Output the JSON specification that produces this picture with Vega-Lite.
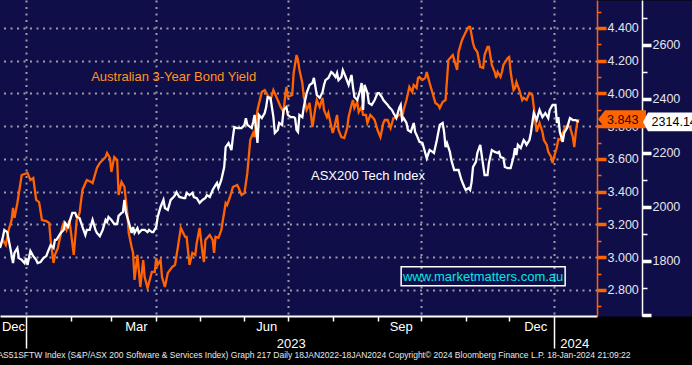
{
"$schema": "https://vega.github.io/schema/vega-lite/v6.json",
"width": 597, "height": 316,
"autosize": {"type": "none"},
"padding": {"left": 0, "top": 0, "right": 95, "bottom": 49},
"background": "#000000",
"config": {"view": {"fill": "#100e48", "stroke": null}, "font": "Liberation Sans"},
"title": {"text": "AS51SFTW Index (S&P/ASX 200 Software & Services Index) Graph 217  Daily 18JAN2022-18JAN2024   Copyright© 2024 Bloomberg Finance L.P.    18-Jan-2024 21:09:22", "orient": "bottom", "anchor": "start", "fontSize": 8.5, "fontWeight": "normal", "color": "#e8e8e8", "font": "Liberation Sans", "offset": 1, "dx": 2},
"datasets": {
"bond": [
{"date":"2022-12-14","v":3.063},{"date":"2022-12-16","v":3.105},{"date":"2022-12-18","v":3.075},{"date":"2022-12-20","v":3.166},{"date":"2022-12-22","v":3.227},{"date":"2022-12-23","v":3.301},{"date":"2022-12-24","v":3.240},{"date":"2022-12-26","v":3.331},{"date":"2022-12-29","v":3.502},
{"date":"2023-01-02","v":3.515},{"date":"2023-01-04","v":3.472},{"date":"2023-01-06","v":3.484},{"date":"2023-01-08","v":3.350},{"date":"2023-01-10","v":3.337},{"date":"2023-01-12","v":3.227},{"date":"2023-01-15","v":3.221},{"date":"2023-01-17","v":3.209},{"date":"2023-01-18","v":3.105},{"date":"2023-01-20","v":2.965},{"date":"2023-01-21","v":3.014},{"date":"2023-01-23","v":3.056},{"date":"2023-01-26","v":3.185},{"date":"2023-01-27","v":3.209},{"date":"2023-01-29","v":3.166},{"date":"2023-01-31","v":3.227},
{"date":"2023-02-03","v":3.014},{"date":"2023-02-05","v":3.227},{"date":"2023-02-07","v":3.270},{"date":"2023-02-09","v":3.411},{"date":"2023-02-12","v":3.472},{"date":"2023-02-15","v":3.460},{"date":"2023-02-16","v":3.453},{"date":"2023-02-19","v":3.545},{"date":"2023-02-21","v":3.576},{"date":"2023-02-23","v":3.594},{"date":"2023-02-25","v":3.612},{"date":"2023-02-26","v":3.637},{"date":"2023-02-28","v":3.606},
{"date":"2023-03-01","v":3.521},{"date":"2023-03-03","v":3.612},{"date":"2023-03-05","v":3.594},{"date":"2023-03-06","v":3.380},{"date":"2023-03-08","v":3.460},{"date":"2023-03-10","v":3.429},{"date":"2023-03-12","v":3.270},{"date":"2023-03-13","v":3.148},{"date":"2023-03-15","v":3.063},{"date":"2023-03-16","v":3.026},{"date":"2023-03-17","v":2.861},{"date":"2023-03-19","v":3.014},{"date":"2023-03-21","v":2.818},{"date":"2023-03-23","v":2.983},{"date":"2023-03-24","v":2.879},{"date":"2023-03-26","v":2.812},{"date":"2023-03-29","v":2.910},{"date":"2023-03-31","v":2.910},
{"date":"2023-04-01","v":2.995},{"date":"2023-04-02","v":2.953},{"date":"2023-04-04","v":2.983},{"date":"2023-04-05","v":2.879},{"date":"2023-04-07","v":2.818},{"date":"2023-04-09","v":2.904},{"date":"2023-04-12","v":2.940},{"date":"2023-04-14","v":2.953},{"date":"2023-04-16","v":3.063},{"date":"2023-04-18","v":3.179},{"date":"2023-04-21","v":3.124},{"date":"2023-04-22","v":3.124},{"date":"2023-04-24","v":2.953},{"date":"2023-04-26","v":3.026},{"date":"2023-04-28","v":3.014},{"date":"2023-04-29","v":3.087},
{"date":"2023-05-01","v":3.179},{"date":"2023-05-03","v":3.026},{"date":"2023-05-04","v":2.971},{"date":"2023-05-05","v":3.105},{"date":"2023-05-08","v":3.136},{"date":"2023-05-10","v":3.105},{"date":"2023-05-11","v":3.026},{"date":"2023-05-12","v":3.124},{"date":"2023-05-14","v":3.118},{"date":"2023-05-16","v":3.166},{"date":"2023-05-19","v":3.331},{"date":"2023-05-20","v":3.319},{"date":"2023-05-22","v":3.368},{"date":"2023-05-24","v":3.429},{"date":"2023-05-27","v":3.441},{"date":"2023-05-28","v":3.423},{"date":"2023-05-30","v":3.380},
{"date":"2023-06-01","v":3.392},{"date":"2023-06-03","v":3.515},{"date":"2023-06-05","v":3.716},{"date":"2023-06-07","v":3.759},{"date":"2023-06-08","v":3.734},{"date":"2023-06-09","v":3.820},{"date":"2023-06-10","v":3.899},{"date":"2023-06-13","v":4.009},{"date":"2023-06-15","v":4.021},{"date":"2023-06-17","v":3.991},{"date":"2023-06-19","v":3.960},{"date":"2023-06-21","v":4.021},{"date":"2023-06-24","v":3.960},{"date":"2023-06-26","v":3.918},{"date":"2023-06-28","v":3.887},{"date":"2023-06-29","v":3.973},{"date":"2023-06-30","v":4.040},
{"date":"2023-07-01","v":3.979},{"date":"2023-07-04","v":3.991},{"date":"2023-07-05","v":4.125},{"date":"2023-07-07","v":4.235},{"date":"2023-07-08","v":4.205},{"date":"2023-07-09","v":4.144},{"date":"2023-07-11","v":4.064},{"date":"2023-07-12","v":3.979},{"date":"2023-07-14","v":3.899},{"date":"2023-07-15","v":3.918},{"date":"2023-07-16","v":3.942},{"date":"2023-07-18","v":3.795},{"date":"2023-07-20","v":3.911},{"date":"2023-07-21","v":3.960},{"date":"2023-07-23","v":3.918},{"date":"2023-07-25","v":3.973},{"date":"2023-07-26","v":3.899},{"date":"2023-07-28","v":3.856},{"date":"2023-07-29","v":3.881},
{"date":"2023-08-01","v":3.759},{"date":"2023-08-02","v":3.789},{"date":"2023-08-04","v":3.869},{"date":"2023-08-05","v":3.777},{"date":"2023-08-07","v":3.734},{"date":"2023-08-09","v":3.728},{"date":"2023-08-11","v":3.789},{"date":"2023-08-12","v":3.856},{"date":"2023-08-14","v":3.930},{"date":"2023-08-15","v":3.960},{"date":"2023-08-16","v":3.911},{"date":"2023-08-18","v":3.948},{"date":"2023-08-19","v":3.887},{"date":"2023-08-21","v":3.918},{"date":"2023-08-22","v":3.869},{"date":"2023-08-24","v":3.869},{"date":"2023-08-25","v":3.820},{"date":"2023-08-27","v":3.869},{"date":"2023-08-29","v":3.850},{"date":"2023-08-30","v":3.838},
{"date":"2023-09-01","v":3.777},{"date":"2023-09-03","v":3.734},{"date":"2023-09-05","v":3.820},{"date":"2023-09-06","v":3.838},{"date":"2023-09-08","v":3.838},{"date":"2023-09-10","v":3.789},{"date":"2023-09-12","v":3.850},{"date":"2023-09-13","v":3.850},{"date":"2023-09-14","v":3.856},{"date":"2023-09-17","v":3.875},{"date":"2023-09-18","v":3.850},{"date":"2023-09-19","v":3.899},{"date":"2023-09-21","v":3.960},{"date":"2023-09-23","v":4.040},{"date":"2023-09-25","v":4.009},{"date":"2023-09-26","v":4.052},{"date":"2023-09-28","v":4.034},{"date":"2023-09-29","v":4.095},{"date":"2023-09-30","v":4.101},
{"date":"2023-10-02","v":4.082},{"date":"2023-10-04","v":4.095},{"date":"2023-10-05","v":4.131},{"date":"2023-10-07","v":4.064},{"date":"2023-10-09","v":4.003},{"date":"2023-10-11","v":3.942},{"date":"2023-10-13","v":3.930},{"date":"2023-10-14","v":3.911},{"date":"2023-10-16","v":3.948},{"date":"2023-10-18","v":3.960},{"date":"2023-10-19","v":4.082},{"date":"2023-10-20","v":4.205},{"date":"2023-10-23","v":4.235},{"date":"2023-10-24","v":4.205},{"date":"2023-10-26","v":4.144},{"date":"2023-10-27","v":4.253},{"date":"2023-10-29","v":4.315},{"date":"2023-10-30","v":4.339},
{"date":"2023-11-01","v":4.376},{"date":"2023-11-03","v":4.406},{"date":"2023-11-04","v":4.406},{"date":"2023-11-06","v":4.308},{"date":"2023-11-07","v":4.278},{"date":"2023-11-09","v":4.253},{"date":"2023-11-11","v":4.162},{"date":"2023-11-13","v":4.156},{"date":"2023-11-14","v":4.235},{"date":"2023-11-16","v":4.284},{"date":"2023-11-17","v":4.284},{"date":"2023-11-19","v":4.174},{"date":"2023-11-21","v":4.131},{"date":"2023-11-22","v":4.095},{"date":"2023-11-23","v":4.131},{"date":"2023-11-25","v":4.101},{"date":"2023-11-26","v":4.131},{"date":"2023-11-27","v":4.174},{"date":"2023-11-30","v":4.217},
{"date":"2023-12-01","v":4.223},{"date":"2023-12-02","v":4.131},{"date":"2023-12-04","v":4.021},{"date":"2023-12-05","v":4.034},{"date":"2023-12-06","v":4.070},{"date":"2023-12-08","v":4.021},{"date":"2023-12-10","v":3.960},{"date":"2023-12-11","v":3.973},{"date":"2023-12-13","v":3.960},{"date":"2023-12-15","v":4.003},{"date":"2023-12-17","v":3.991},{"date":"2023-12-18","v":3.918},{"date":"2023-12-19","v":3.838},{"date":"2023-12-20","v":3.765},{"date":"2023-12-22","v":3.820},{"date":"2023-12-24","v":3.765},{"date":"2023-12-25","v":3.716},{"date":"2023-12-27","v":3.686},{"date":"2023-12-28","v":3.643},{"date":"2023-12-30","v":3.612},{"date":"2023-12-31","v":3.576},
{"date":"2024-01-01","v":3.612},{"date":"2024-01-03","v":3.673},{"date":"2024-01-04","v":3.722},{"date":"2024-01-06","v":3.716},{"date":"2024-01-07","v":3.759},{"date":"2024-01-09","v":3.795},{"date":"2024-01-10","v":3.802},{"date":"2024-01-12","v":3.795},{"date":"2024-01-14","v":3.734},{"date":"2024-01-15","v":3.673},{"date":"2024-01-16","v":3.759},{"date":"2024-01-17","v":3.820},{"date":"2024-01-18","v":3.843}
],
"tech": [
{"date":"2022-12-14","v":1847},{"date":"2022-12-16","v":1888},{"date":"2022-12-17","v":1914},{"date":"2022-12-19","v":1906},{"date":"2022-12-21","v":1851},{"date":"2022-12-23","v":1791},{"date":"2022-12-24","v":1829},{"date":"2022-12-26","v":1847},{"date":"2022-12-27","v":1810},{"date":"2022-12-29","v":1803},{"date":"2022-12-31","v":1791},
{"date":"2023-01-01","v":1810},{"date":"2023-01-02","v":1784},{"date":"2023-01-04","v":1836},{"date":"2023-01-06","v":1817},{"date":"2023-01-08","v":1803},{"date":"2023-01-09","v":1791},{"date":"2023-01-11","v":1795},{"date":"2023-01-13","v":1810},{"date":"2023-01-15","v":1817},{"date":"2023-01-16","v":1832},{"date":"2023-01-18","v":1858},{"date":"2023-01-20","v":1847},{"date":"2023-01-21","v":1877},{"date":"2023-01-22","v":1877},{"date":"2023-01-25","v":1903},{"date":"2023-01-27","v":1914},{"date":"2023-01-28","v":1940},{"date":"2023-01-30","v":1925},{"date":"2023-01-31","v":1943},
{"date":"2023-02-02","v":1977},{"date":"2023-02-04","v":1977},{"date":"2023-02-05","v":1962},{"date":"2023-02-07","v":1958},{"date":"2023-02-09","v":1925},{"date":"2023-02-11","v":1895},{"date":"2023-02-12","v":1914},{"date":"2023-02-14","v":1914},{"date":"2023-02-16","v":1951},{"date":"2023-02-18","v":1914},{"date":"2023-02-19","v":1903},{"date":"2023-02-21","v":1891},{"date":"2023-02-23","v":1914},{"date":"2023-02-25","v":1951},{"date":"2023-02-26","v":1943},{"date":"2023-02-27","v":1962},
{"date":"2023-03-01","v":1951},{"date":"2023-03-03","v":1936},{"date":"2023-03-05","v":1936},{"date":"2023-03-06","v":1966},{"date":"2023-03-08","v":1977},{"date":"2023-03-09","v":1980},{"date":"2023-03-10","v":2025},{"date":"2023-03-11","v":1980},{"date":"2023-03-13","v":1943},{"date":"2023-03-15","v":1903},{"date":"2023-03-16","v":1925},{"date":"2023-03-17","v":1903},{"date":"2023-03-19","v":1921},{"date":"2023-03-20","v":1903},{"date":"2023-03-22","v":1914},{"date":"2023-03-24","v":1914},{"date":"2023-03-26","v":1906},{"date":"2023-03-27","v":1914},{"date":"2023-03-29","v":1906},{"date":"2023-03-30","v":1906},
{"date":"2023-04-01","v":1925},{"date":"2023-04-02","v":1962},{"date":"2023-04-04","v":1999},{"date":"2023-04-06","v":2025},{"date":"2023-04-07","v":1995},{"date":"2023-04-09","v":1988},{"date":"2023-04-11","v":2025},{"date":"2023-04-13","v":2036},{"date":"2023-04-14","v":2043},{"date":"2023-04-15","v":2054},{"date":"2023-04-17","v":2036},{"date":"2023-04-20","v":2032},{"date":"2023-04-21","v":2032},{"date":"2023-04-22","v":2051},{"date":"2023-04-24","v":2043},{"date":"2023-04-26","v":2051},{"date":"2023-04-27","v":2036},{"date":"2023-04-29","v":2032},
{"date":"2023-05-01","v":2014},{"date":"2023-05-03","v":2025},{"date":"2023-05-05","v":2032},{"date":"2023-05-06","v":2043},{"date":"2023-05-08","v":2036},{"date":"2023-05-10","v":2062},{"date":"2023-05-12","v":2080},{"date":"2023-05-13","v":2088},{"date":"2023-05-14","v":2069},{"date":"2023-05-16","v":2099},{"date":"2023-05-18","v":2147},{"date":"2023-05-19","v":2221},{"date":"2023-05-21","v":2236},{"date":"2023-05-23","v":2210},{"date":"2023-05-24","v":2258},{"date":"2023-05-25","v":2295},{"date":"2023-05-27","v":2291},{"date":"2023-05-28","v":2291},{"date":"2023-05-30","v":2291},
{"date":"2023-06-01","v":2303},{"date":"2023-06-02","v":2328},{"date":"2023-06-03","v":2303},{"date":"2023-06-06","v":2291},{"date":"2023-06-07","v":2314},{"date":"2023-06-08","v":2340},{"date":"2023-06-10","v":2236},{"date":"2023-06-11","v":2340},{"date":"2023-06-13","v":2328},{"date":"2023-06-15","v":2347},{"date":"2023-06-16","v":2369},{"date":"2023-06-17","v":2406},{"date":"2023-06-19","v":2403},{"date":"2023-06-21","v":2332},{"date":"2023-06-22","v":2273},{"date":"2023-06-24","v":2284},{"date":"2023-06-25","v":2310},{"date":"2023-06-27","v":2303},{"date":"2023-06-28","v":2358},{"date":"2023-06-30","v":2369},
{"date":"2023-07-01","v":2340},{"date":"2023-07-03","v":2332},{"date":"2023-07-05","v":2332},{"date":"2023-07-06","v":2328},{"date":"2023-07-07","v":2284},{"date":"2023-07-08","v":2277},{"date":"2023-07-09","v":2340},{"date":"2023-07-11","v":2332},{"date":"2023-07-12","v":2369},{"date":"2023-07-14","v":2421},{"date":"2023-07-16","v":2451},{"date":"2023-07-18","v":2458},{"date":"2023-07-19","v":2477},{"date":"2023-07-21","v":2414},{"date":"2023-07-23","v":2403},{"date":"2023-07-25","v":2425},{"date":"2023-07-26","v":2451},{"date":"2023-07-27","v":2469},{"date":"2023-07-29","v":2477},{"date":"2023-07-31","v":2499},
{"date":"2023-08-01","v":2495},{"date":"2023-08-03","v":2480},{"date":"2023-08-04","v":2495},{"date":"2023-08-05","v":2469},{"date":"2023-08-07","v":2480},{"date":"2023-08-08","v":2506},{"date":"2023-08-10","v":2480},{"date":"2023-08-12","v":2451},{"date":"2023-08-14","v":2488},{"date":"2023-08-15","v":2443},{"date":"2023-08-16","v":2406},{"date":"2023-08-18","v":2395},{"date":"2023-08-20","v":2432},{"date":"2023-08-21","v":2458},{"date":"2023-08-22","v":2358},{"date":"2023-08-23","v":2451},{"date":"2023-08-25","v":2421},{"date":"2023-08-26","v":2384},{"date":"2023-08-28","v":2377},{"date":"2023-08-30","v":2395},
{"date":"2023-09-01","v":2421},{"date":"2023-09-02","v":2421},{"date":"2023-09-04","v":2406},{"date":"2023-09-05","v":2395},{"date":"2023-09-08","v":2377},{"date":"2023-09-09","v":2369},{"date":"2023-09-11","v":2358},{"date":"2023-09-12","v":2347},{"date":"2023-09-14","v":2328},{"date":"2023-09-16","v":2366},{"date":"2023-09-17","v":2377},{"date":"2023-09-18","v":2321},{"date":"2023-09-19","v":2328},{"date":"2023-09-21","v":2310},{"date":"2023-09-22","v":2284},{"date":"2023-09-24","v":2277},{"date":"2023-09-26","v":2310},{"date":"2023-09-27","v":2277},{"date":"2023-09-28","v":2266},{"date":"2023-09-30","v":2240},
{"date":"2023-10-02","v":2236},{"date":"2023-10-04","v":2199},{"date":"2023-10-05","v":2180},{"date":"2023-10-07","v":2210},{"date":"2023-10-09","v":2203},{"date":"2023-10-10","v":2199},{"date":"2023-10-12","v":2247},{"date":"2023-10-14","v":2303},{"date":"2023-10-16","v":2310},{"date":"2023-10-17","v":2277},{"date":"2023-10-18","v":2221},{"date":"2023-10-19","v":2236},{"date":"2023-10-21","v":2203},{"date":"2023-10-22","v":2173},{"date":"2023-10-24","v":2136},{"date":"2023-10-26","v":2136},{"date":"2023-10-27","v":2136},{"date":"2023-10-29","v":2099},{"date":"2023-10-31","v":2073},
{"date":"2023-11-01","v":2062},{"date":"2023-11-03","v":2069},{"date":"2023-11-04","v":2062},{"date":"2023-11-05","v":2091},{"date":"2023-11-06","v":2147},{"date":"2023-11-08","v":2166},{"date":"2023-11-09","v":2199},{"date":"2023-11-11","v":2229},{"date":"2023-11-12","v":2191},{"date":"2023-11-13","v":2154},{"date":"2023-11-14","v":2117},{"date":"2023-11-16","v":2117},{"date":"2023-11-17","v":2162},{"date":"2023-11-19","v":2210},{"date":"2023-11-21","v":2203},{"date":"2023-11-23","v":2199},{"date":"2023-11-24","v":2203},{"date":"2023-11-25","v":2184},{"date":"2023-11-27","v":2180},{"date":"2023-11-28","v":2147},{"date":"2023-11-30","v":2143},
{"date":"2023-12-02","v":2143},{"date":"2023-12-04","v":2184},{"date":"2023-12-05","v":2217},{"date":"2023-12-06","v":2191},{"date":"2023-12-07","v":2229},{"date":"2023-12-09","v":2217},{"date":"2023-12-11","v":2247},{"date":"2023-12-12","v":2240},{"date":"2023-12-13","v":2229},{"date":"2023-12-15","v":2247},{"date":"2023-12-16","v":2273},{"date":"2023-12-17","v":2310},{"date":"2023-12-18","v":2347},{"date":"2023-12-20","v":2321},{"date":"2023-12-21","v":2340},{"date":"2023-12-22","v":2358},{"date":"2023-12-24","v":2332},{"date":"2023-12-26","v":2347},{"date":"2023-12-28","v":2328},{"date":"2023-12-29","v":2358},{"date":"2023-12-31","v":2377},
{"date":"2024-01-02","v":2377},{"date":"2024-01-03","v":2310},{"date":"2024-01-04","v":2332},{"date":"2024-01-05","v":2277},{"date":"2024-01-07","v":2240},{"date":"2024-01-08","v":2273},{"date":"2024-01-10","v":2291},{"date":"2024-01-11","v":2310},{"date":"2024-01-12","v":2328},{"date":"2024-01-14","v":2321},{"date":"2024-01-16","v":2321},{"date":"2024-01-17","v":2317},{"date":"2024-01-18","v":2314.14}
],
"mark": [{"date": "2023-11-13", "v": 1742.6, "label": "www.marketmatters.com.au"}],
"bondnote": [{"date": "2023-02-15", "v": 4.101, "label": "Australian 3-Year Bond Yield"}],
"bondlast": [{"date": "2024-01-18", "v": 3.843, "label": "3.843"}],
"technote": [{"date": "2023-07-17", "v": 2114, "label": "ASX200 Tech Index"}],
"techlast": [{"date": "2024-01-18", "v": 2314.14, "label": "2314.14"}]
},
"layer": [
{"data": {"name": "mark"},
 "mark": {"type": "point", "shape": "M-1,-0.116H1V0.116H-1Z", "size": 26896, "filled": false, "color": "#ffffff", "strokeWidth": 1.5, "opacity": 1},
 "encoding": {
  "x": {"field": "date", "type": "temporal", "scale": {"type": "utc", "domain": [{"year": 2022, "month": 12, "date": 14, "utc": true}, {"year": 2024, "month": 1, "date": 30, "hours": 17, "utc": true}], "nice": false},
   "axis": {"orient": "bottom", "title": null, "values": [{"year": 2023, "month": 7, "date": 3, "utc": true}, {"year": 2024, "month": 1, "date": 15, "utc": true}], "labelExpr": "utcyear(datum.value) + ''", "ticks": false, "domain": false, "grid": false, "labelPadding": 21, "labelFontSize": 13, "labelColor": "#ffffff", "labelFlush": false, "labelOverlap": false, "labelFont": "Liberation Sans"}},
  "y": {"field": "v", "type": "quantitative", "scale": {"domain": [1595.2, 2765.6], "nice": false, "zero": false},
   "axis": {"orient": "right", "title": null, "offset": 47.5, "domainWidth": 95, "domainColor": "#100e48", "ticks": false, "labels": false, "grid": false}}
 }},
{"data": {"name": "mark"},
 "mark": {"type": "text", "align": "center", "baseline": "middle", "fontSize": 13, "color": "#00e6e6", "font": "Liberation Sans", "dy": 0.5},
 "encoding": {
  "x": {"field": "date", "type": "temporal", "scale": {"type": "utc", "domain": [{"year": 2022, "month": 12, "date": 14, "utc": true}, {"year": 2024, "month": 1, "date": 30, "hours": 17, "utc": true}], "nice": false}, "axis": null},
  "y": {"field": "v", "type": "quantitative", "scale": {"domain": [1595.2, 2765.6], "nice": false, "zero": false}, "axis": null},
  "text": {"field": "label"}
 }},
{"data": {"name": "bond"},
 "mark": {"type": "line", "color": "#ff6400", "strokeWidth": 2.3},
 "encoding": {
  "x": {"field": "date", "type": "temporal", "scale": {"type": "utc", "domain": [{"year": 2022, "month": 12, "date": 14, "utc": true}, {"year": 2024, "month": 1, "date": 30, "hours": 17, "utc": true}], "nice": false},
   "axis": {"orient": "bottom", "title": null, "labels": false, "values": [{"year": 2023, "month": 1, "date": 1, "utc": true}, {"year": 2023, "month": 2, "date": 1, "utc": true}, {"year": 2023, "month": 3, "date": 1, "utc": true}, {"year": 2023, "month": 4, "date": 1, "utc": true}, {"year": 2023, "month": 5, "date": 1, "utc": true}, {"year": 2023, "month": 6, "date": 1, "utc": true}, {"year": 2023, "month": 7, "date": 1, "utc": true}, {"year": 2023, "month": 8, "date": 1, "utc": true}, {"year": 2023, "month": 9, "date": 1, "utc": true}, {"year": 2023, "month": 10, "date": 1, "utc": true}, {"year": 2023, "month": 11, "date": 1, "utc": true}, {"year": 2023, "month": 12, "date": 1, "utc": true}, {"year": 2024, "month": 1, "date": 1, "utc": true}],
    "domain": true, "domainColor": "#ffffff", "domainWidth": 2,
    "ticks": true, "tickColor": "#ffffff", "tickWidth": 1.5,
    "tickSize": {"condition": {"test": "utcmonth(datum.value)==0", "value": 32}, "value": 5},
    "grid": true, "gridColor": "#9c9ca8", "gridDash": [2, 4.5], "gridWidth": 2,
    "gridOpacity": {"condition": {"test": "utcmonth(datum.value)%3==0", "value": 1}, "value": 0}}},
  "y": {"field": "v", "type": "quantitative", "scale": {"domain": [2.641, 4.571], "nice": false, "zero": false},
   "axis": {"orient": "right", "title": null, "offset": 0,
    "values": [2.7, 2.8, 2.9, 3.0, 3.1, 3.2, 3.3, 3.4, 3.5, 3.6, 3.7, 3.8, 3.9, 4.0, 4.1, 4.2, 4.3, 4.4, 4.5],
    "labelExpr": "round(datum.value*10)%2==0 ? format(datum.value, '.3f') : ''",
    "domain": true, "domainColor": "#ff6400", "domainWidth": 1.5,
    "tickColor": "#ff6400",
    "tickSize": {"condition": {"test": "round(datum.value*10)%2==0", "value": 9}, "value": 4},
    "tickWidth": {"condition": {"test": "round(datum.value*10)%2==0", "value": 3.5}, "value": 1.5},
    "labelColor": "#e4e4ec", "labelFontSize": 12.5, "labelPadding": 1, "labelFlush": false, "labelOverlap": false, "labelFont": "Liberation Sans",
    "grid": true, "gridColor": "#9c9ca8", "gridDash": [2, 4.5], "gridWidth": 2,
    "gridOpacity": {"condition": {"test": "round(datum.value*10)%2==0", "value": 1}, "value": 0}}}
 }},
{"data": {"name": "bondnote"},
 "mark": {"type": "text", "align": "left", "baseline": "middle", "fontSize": 13, "color": "#ff9420", "font": "Liberation Sans"},
 "encoding": {
  "x": {"field": "date", "type": "temporal", "scale": {"type": "utc", "domain": [{"year": 2022, "month": 12, "date": 14, "utc": true}, {"year": 2024, "month": 1, "date": 30, "hours": 17, "utc": true}], "nice": false}, "axis": null},
  "y": {"field": "v", "type": "quantitative", "scale": {"domain": [2.641, 4.571], "nice": false, "zero": false}, "axis": null},
  "text": {"field": "label"}
 }},
{"data": {"name": "tech"},
 "mark": {"type": "line", "color": "#ffffff", "strokeWidth": 2.3},
 "encoding": {
  "x": {"field": "date", "type": "temporal", "scale": {"type": "utc", "domain": [{"year": 2022, "month": 12, "date": 14, "utc": true}, {"year": 2024, "month": 1, "date": 30, "hours": 17, "utc": true}], "nice": false},
   "axis": {"orient": "bottom", "title": null, "values": [{"year": 2022, "month": 12, "date": 23, "utc": true}, {"year": 2023, "month": 3, "date": 18, "utc": true}, {"year": 2023, "month": 6, "date": 16, "utc": true}, {"year": 2023, "month": 9, "date": 17, "utc": true}, {"year": 2023, "month": 12, "date": 19, "utc": true}],
    "labelExpr": "['Jan','Feb','Mar','Apr','May','Jun','Jul','Aug','Sep','Oct','Nov','Dec'][utcmonth(datum.value)]",
    "ticks": false, "domain": false, "grid": false, "labelPadding": 4, "labelFontSize": 13, "labelColor": "#ffffff", "labelFlush": false, "labelOverlap": false, "labelFont": "Liberation Sans"}},
  "y": {"field": "v", "type": "quantitative", "scale": {"domain": [1595.2, 2765.6], "nice": false, "zero": false},
   "axis": {"orient": "right", "title": null, "offset": 45,
    "values": [1600, 1700, 1800, 1900, 2000, 2100, 2200, 2300, 2400, 2500, 2600, 2700],
    "labelExpr": "(datum.value%200==0 && datum.value>=1800) ? format(datum.value, 'd') : ''",
    "domain": true, "domainColor": "#ffffff", "domainWidth": 1.5,
    "tickColor": "#ffffff",
    "tickSize": {"condition": {"test": "datum.value%200==0", "value": 9}, "value": 5},
    "tickWidth": {"condition": {"test": "datum.value%200==0", "value": 3.5}, "value": 1.5},
    "labelColor": "#e4e4ec", "labelFontSize": 12.5, "labelPadding": 1, "labelFlush": false, "labelOverlap": false, "labelFont": "Liberation Sans",
    "grid": false}}
 }},
{"data": {"name": "technote"},
 "mark": {"type": "text", "align": "left", "baseline": "middle", "fontSize": 13, "color": "#ffffff", "font": "Liberation Sans"},
 "encoding": {
  "x": {"field": "date", "type": "temporal", "scale": {"type": "utc", "domain": [{"year": 2022, "month": 12, "date": 14, "utc": true}, {"year": 2024, "month": 1, "date": 30, "hours": 17, "utc": true}], "nice": false}, "axis": null},
  "y": {"field": "v", "type": "quantitative", "scale": {"domain": [1595.2, 2765.6], "nice": false, "zero": false}, "axis": null},
  "text": {"field": "label"}
 }},
{"data": {"name": "bondlast"},
 "mark": {"type": "point", "shape": "M0.277,0L0.377,-0.129L0.963,-0.129L0.963,0.129L0.377,0.129Z", "size": 19600, "filled": true, "color": "#ff6400", "strokeWidth": 0, "opacity": 1},
 "encoding": {
  "x": {"field": "date", "type": "temporal", "scale": {"type": "utc", "domain": [{"year": 2022, "month": 12, "date": 14, "utc": true}, {"year": 2024, "month": 1, "date": 30, "hours": 17, "utc": true}], "nice": false}, "axis": null},
  "y": {"field": "v", "type": "quantitative", "scale": {"domain": [2.641, 4.571], "nice": false, "zero": false}, "axis": null}
 }},
{"data": {"name": "bondlast"},
 "mark": {"type": "text", "align": "left", "baseline": "middle", "dx": 28.5, "dy": 0.5, "fontSize": 12.5, "color": "#1c0c00", "font": "Liberation Sans"},
 "encoding": {
  "x": {"field": "date", "type": "temporal", "scale": {"type": "utc", "domain": [{"year": 2022, "month": 12, "date": 14, "utc": true}, {"year": 2024, "month": 1, "date": 30, "hours": 17, "utc": true}], "nice": false}, "axis": null},
  "y": {"field": "v", "type": "quantitative", "scale": {"domain": [2.641, 4.571], "nice": false, "zero": false}, "axis": null},
  "text": {"field": "label"}
 }},
{"data": {"name": "techlast"},
 "mark": {"type": "point", "shape": "M0.537,0L0.578,-0.079L1,-0.079L1,0.079L0.578,0.079Z", "size": 57600, "filled": true, "color": "#ffffff", "strokeWidth": 0, "opacity": 1},
 "encoding": {
  "x": {"field": "date", "type": "temporal", "scale": {"type": "utc", "domain": [{"year": 2022, "month": 12, "date": 14, "utc": true}, {"year": 2024, "month": 1, "date": 30, "hours": 17, "utc": true}], "nice": false}, "axis": null},
  "y": {"field": "v", "type": "quantitative", "scale": {"domain": [1595.2, 2765.6], "nice": false, "zero": false}, "axis": null}
 }},
{"data": {"name": "techlast"},
 "mark": {"type": "text", "align": "left", "baseline": "middle", "dx": 73, "dy": 0.5, "fontSize": 12.5, "color": "#000000", "font": "Liberation Sans"},
 "encoding": {
  "x": {"field": "date", "type": "temporal", "scale": {"type": "utc", "domain": [{"year": 2022, "month": 12, "date": 14, "utc": true}, {"year": 2024, "month": 1, "date": 30, "hours": 17, "utc": true}], "nice": false}, "axis": null},
  "y": {"field": "v", "type": "quantitative", "scale": {"domain": [1595.2, 2765.6], "nice": false, "zero": false}, "axis": null},
  "text": {"field": "label"}
 }}
],
"resolve": {"scale": {"y": "independent"}, "axis": {"x": "independent", "y": "independent"}}
}
